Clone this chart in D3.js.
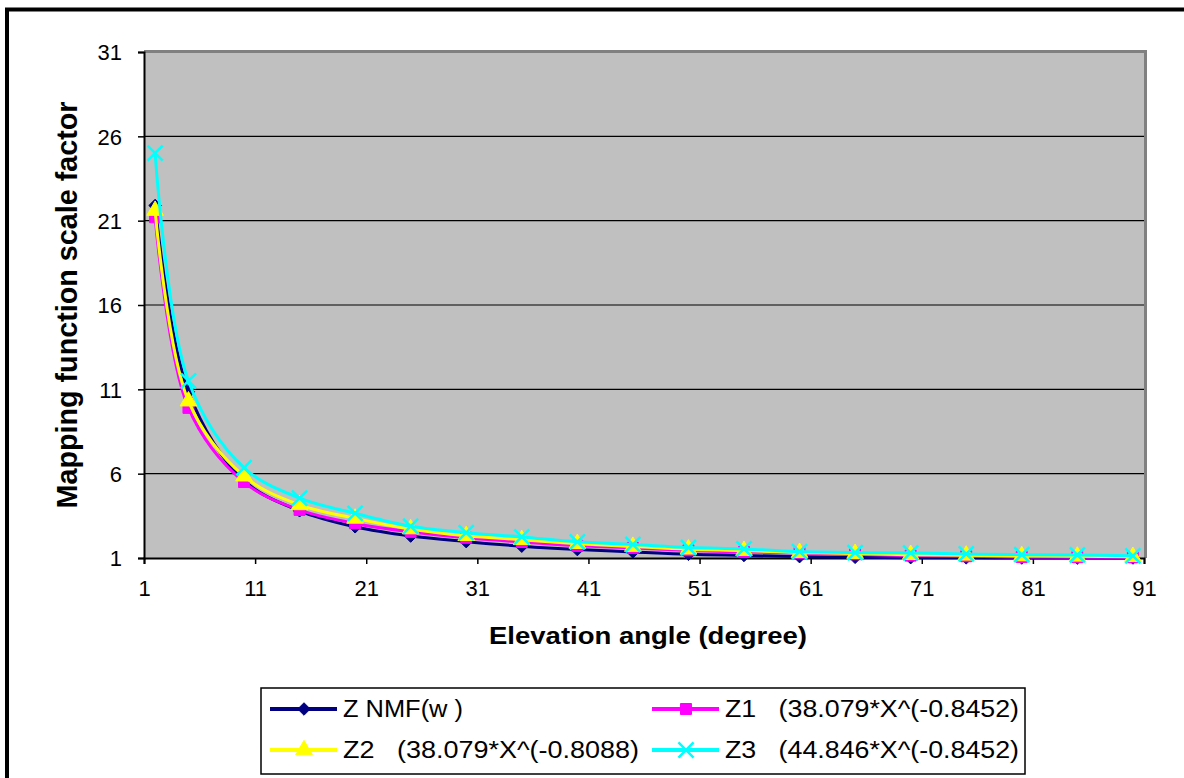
<!DOCTYPE html>
<html>
<head>
<meta charset="utf-8" />
<title></title>
<style>
html, body {
    padding: 0px;
    margin: 0px;
    background: #fff;
}
svg text {
    font-family: "Liberation Sans", Arial, sans-serif;
    fill: #000;
}
</style>
</head>
<body>
<div id="chart"></div>

<script src="https://d3js.org/d3.v7.min.js"></script>
<script>
!(function(){
    "use strict"

    // values
    var elevation = [2, 5, 10, 15, 20, 25, 30, 35, 40, 45, 50, 55, 60, 65, 70, 75, 80, 85, 90]
    var nmf = [21.9, 10.85, 5.6, 3.8, 2.85, 2.3, 1.97, 1.7, 1.5, 1.36, 1.22, 1.15, 1.08, 1.04, 1.02, 1.01, 1.0, 1.0, 1.0]
    var z1  = [21.2, 9.9, 5.5, 3.85, 3.05, 2.55, 2.2, 1.95, 1.72, 1.6, 1.45, 1.36, 1.3, 1.22, 1.14, 1.1, 1.06, 1.05, 1.04]
    var z2  = [21.6, 10.3, 5.85, 4.15, 3.35, 2.72, 2.32, 2.08, 1.85, 1.68, 1.52, 1.44, 1.32, 1.26, 1.2, 1.16, 1.12, 1.1, 1.08]
    var z3  = [25.0, 11.5, 6.35, 4.55, 3.65, 2.88, 2.5, 2.25, 1.96, 1.8, 1.62, 1.54, 1.38, 1.32, 1.3, 1.24, 1.2, 1.18, 1.13]

    var xTicks = [1, 11, 21, 31, 41, 51, 61, 71, 81, 91]
    var yTicks = [1, 6, 11, 16, 21, 26, 31]

    var seriesNames = ["Z NMF(w )", "Z1   (38.079*X^(-0.8452)", "Z2   (38.079*X^(-0.8088)", "Z3   (44.846*X^(-0.8452)"]
    var seriesValues = [nmf, z1, z2, z3]
    var seriesColors = ["#000080", "#FF00FF", "#FFFF00", "#00FFFF"]
    var seriesSymbols = [d3.symbolDiamond2 || d3.symbolDiamond, d3.symbolSquare, d3.symbolTriangle, d3.symbolTimes || d3.symbolX]
    var symbolSizes = [100, 120, 120, 150]

    var W = 1184, H = 778
    var left = 144, right = 1144, top = 52, bottom = 558

    var svg = d3.select("#chart").append("svg")
        .attr("width", W)
        .attr("height", H)

    // outer frame (runs off the right and bottom edges)
    svg.append("rect")
        .attr("x", 7).attr("y", 9.5)
        .attr("width", 1300).attr("height", 900)
        .attr("fill", "none")
        .attr("stroke", "#000")
        .attr("stroke-width", 4)

    var x = d3.scaleLinear().domain([1, 91]).range([left, right])
    var y = d3.scaleLinear().domain([1, 31]).range([bottom, top])

    // plot area
    svg.append("rect")
        .attr("x", left).attr("y", top)
        .attr("width", right - left).attr("height", bottom - top)
        .attr("fill", "#C0C0C0")

    // gridlines
    svg.append("g")
        .selectAll("line")
        .data(yTicks.slice(1))
        .enter()
        .append("line")
        .attr("x1", left).attr("x2", right)
        .attr("y1", function(d){ return y(d) })
        .attr("y2", function(d){ return y(d) })
        .attr("stroke", "#000")
        .attr("stroke-width", 1.2)

    // gray plot border on top/right
    svg.append("path")
        .attr("d", "M" + left + "," + (top - 0.5) + "H" + (right + 1.5) + "V" + bottom)
        .attr("fill", "none")
        .attr("stroke", "#808080")
        .attr("stroke-width", 3)

    // axes
    var xAxis = svg.append("g")
        .attr("transform", "translate(0," + bottom + ")")
        .call(d3.axisBottom(x).tickValues(xTicks).tickSize(6).tickPadding(16).tickFormat(d3.format("d")))
    var yAxis = svg.append("g")
        .attr("transform", "translate(" + left + ",0)")
        .call(d3.axisLeft(y).tickValues(yTicks).tickSize(6).tickPadding(16).tickFormat(d3.format("d")))

    ;[xAxis, yAxis].forEach(function(a){
        a.select(".domain").attr("stroke", "#000").attr("stroke-width", 2)
        a.selectAll(".tick line").attr("stroke", "#000").attr("stroke-width", 1.5)
        a.selectAll(".tick text")
            .style("font-family", "'Liberation Sans', Arial, sans-serif")
            .style("font-size", "22px")
            .attr("fill", "#111")
    })
    yAxis.selectAll(".tick text").attr("dy", "0.36em")

    // series
    var line = d3.line()
        .x(function(d){ return x(d[0]) })
        .y(function(d){ return y(d[1]) })
        .curve(d3.curveCatmullRom.alpha(0.5))

    seriesValues.forEach(function(vals, i){
        var pts = elevation.map(function(e, j){ return [e, vals[j]] })
        var g = svg.append("g")
        g.append("path")
            .attr("d", line(pts))
            .attr("fill", "none")
            .attr("stroke", seriesColors[i])
            .attr("stroke-width", 3)
        drawMarkers(g, pts, i)
    })

    function drawMarkers(g, pts, i) {
        var sym = d3.symbol().type(seriesSymbols[i]).size(symbolSizes[i])
        var isX = i === 3
        g.selectAll(".m")
            .data(pts)
            .enter()
            .append("path")
            .attr("transform", function(d){ return "translate(" + x(d[0]) + "," + y(d[1]) + ")" })
            .attr("d", sym)
            .attr("fill", isX ? "none" : seriesColors[i])
            .attr("stroke", seriesColors[i])
            .attr("stroke-width", isX ? 2.5 : 1)
    }

    // axis titles
    svg.append("text")
        .attr("x", 648).attr("y", 644)
        .attr("text-anchor", "middle")
        .attr("textLength", 318)
        .attr("lengthAdjust", "spacingAndGlyphs")
        .style("font-size", "23px")
        .style("font-weight", "bold")
        .text("Elevation angle (degree)")

    svg.append("text")
        .attr("transform", "translate(77,305) rotate(-90)")
        .attr("text-anchor", "middle")
        .attr("textLength", 407)
        .attr("lengthAdjust", "spacingAndGlyphs")
        .style("font-size", "29px")
        .style("font-weight", "bold")
        .text("Mapping function scale factor")

    // legend
    var legend = svg.append("g")
    legend.append("rect")
        .attr("x", 261).attr("y", 688)
        .attr("width", 764).attr("height", 86)
        .attr("fill", "#fff")
        .attr("stroke", "#000")
        .attr("stroke-width", 1.5)

    var legLen = [120, 294, 296, 294]
    // Z NMF, Z1 on first row; Z2, Z3 on second row
    var legPos = [[270, 709], [652, 709], [270, 750], [652, 750]]

    seriesNames.forEach(function(name, i){
        var p = legPos[i]
        var item = legend.append("g").attr("transform", "translate(" + p[0] + "," + p[1] + ")")
        item.append("line")
            .attr("x1", 0).attr("x2", 67)
            .attr("stroke", seriesColors[i])
            .attr("stroke-width", 4)
        var sym = d3.symbol().type(seriesSymbols[i]).size(symbolSizes[i])
        item.append("path")
            .attr("transform", "translate(34,0)")
            .attr("d", sym)
            .attr("fill", i === 3 ? "none" : seriesColors[i])
            .attr("stroke", seriesColors[i])
            .attr("stroke-width", i === 3 ? 2.5 : 1)
        item.append("text")
            .attr("x", 73).attr("y", 8)
            .attr("textLength", legLen[i])
            .attr("lengthAdjust", "spacingAndGlyphs")
            .style("font-size", "23px")
            .attr("xml:space", "preserve")
            .text(name)
    })

}());
</script>
</body>
</html>
